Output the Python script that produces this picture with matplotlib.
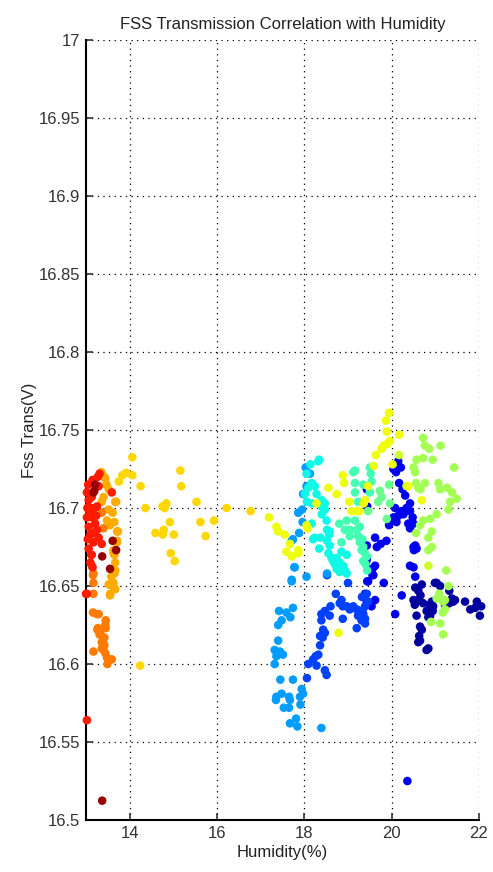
import matplotlib
matplotlib.use("Agg")
import matplotlib.pyplot as plt
import numpy as np

plt.rcParams['font.family'] = ['Liberation Sans Narrow', 'Liberation Sans', 'DejaVu Sans']

# colour value of each group (jet colormap, 0..1)
dark_blue_c = 0.03
dark_blue_x = [20.69, 20.61, 20.66, 20.50, 20.61, 20.53, 20.72, 20.57, 20.80, 20.84, 20.88, 20.92, 21.03,
               21.11, 21.32, 21.38, 21.45, 21.41, 21.32, 21.22, 20.95, 20.94, 20.88, 21.68, 21.80, 21.91,
               21.95, 22.05, 20.65, 20.69, 20.63, 20.65, 20.61, 20.80, 20.54, 20.99, 20.84, 22.02]
dark_blue_y = [16.651, 16.647, 16.644, 16.641, 16.641, 16.638, 16.639, 16.631, 16.634, 16.630, 16.638,
               16.640, 16.652, 16.650, 16.647, 16.642, 16.641, 16.640, 16.639, 16.638, 16.637, 16.634,
               16.631, 16.640, 16.635, 16.636, 16.640, 16.637, 16.624, 16.622, 16.618, 16.615, 16.614,
               16.609, 16.649, 16.652, 16.610, 16.631]

blue2_c = 0.1
blue2_x = [20.15, 20.04, 20.21, 20.10, 20.17, 20.25, 20.31, 20.42, 20.34, 20.42, 20.23, 20.08, 20.04,
           20.15, 20.27, 20.00, 19.94, 20.11, 20.48, 20.50, 20.42, 20.38, 19.43, 19.44, 19.62, 19.43,
           19.75, 19.66, 20.50, 20.54, 20.51, 19.88, 19.43, 19.46, 19.62, 19.58, 19.82, 19.46, 20.42,
           20.50, 20.54, 20.57, 20.23, 20.08, 19.41, 19.56, 19.56, 19.44, 19.39, 19.43, 19.62, 19.54,
           19.33, 20.36]
blue2_y = [16.730, 16.725, 16.726, 16.723, 16.716, 16.712, 16.708, 16.703, 16.700, 16.698, 16.698,
           16.700, 16.694, 16.695, 16.696, 16.692, 16.689, 16.691, 16.694, 16.690, 16.687, 16.690,
           16.712, 16.701, 16.681, 16.676, 16.677, 16.675, 16.675, 16.676, 16.673, 16.679, 16.667,
           16.661, 16.663, 16.657, 16.652, 16.653, 16.663, 16.662, 16.656, 16.674, 16.644, 16.632,
           16.665, 16.661, 16.657, 16.653, 16.645, 16.640, 16.641, 16.637, 16.634, 16.525]

blue_c = 0.19
blue_x = [18.06, 18.26, 18.32, 18.20, 18.28, 18.09, 18.47, 18.51, 18.36, 18.42, 18.36, 18.47, 18.39,
          18.39, 18.47, 18.58, 18.60, 18.72, 18.81, 18.85, 18.88, 18.52, 19.00, 18.97, 19.04, 18.88,
          19.12, 19.20, 19.27, 19.23, 19.35, 19.31, 19.20, 19.39, 19.32, 19.43, 19.46, 19.39, 19.39,
          18.43]
blue_y = [16.591, 16.605, 16.606, 16.603, 16.599, 16.600, 16.596, 16.593, 16.612, 16.617, 16.618,
          16.620, 16.628, 16.632, 16.634, 16.631, 16.637, 16.645, 16.639, 16.641, 16.637, 16.657,
          16.652, 16.637, 16.635, 16.629, 16.637, 16.635, 16.634, 16.631, 16.632, 16.628, 16.623,
          16.637, 16.643, 16.645, 16.640, 16.629, 16.626, 16.622]

light_blue_c = 0.28
light_blue_x = [17.74, 17.77, 17.86, 17.96, 17.97, 18.05, 18.03, 18.13, 17.71, 18.05, 17.78, 17.71,
                17.74, 17.59, 17.42, 17.68, 17.48, 17.40, 17.40, 17.32, 17.44, 17.51, 17.36, 17.32,
                17.45, 17.74, 17.36, 17.48, 17.65, 17.94, 17.97, 17.90, 17.35, 17.53, 17.65, 17.67,
                17.91, 17.81, 17.67, 17.84, 18.39, 17.71, 17.88, 18.52, 17.95]
light_blue_y = [16.680, 16.662, 16.697, 16.691, 16.709, 16.714, 16.726, 16.722, 16.654, 16.656,
                16.662, 16.653, 16.636, 16.633, 16.634, 16.630, 16.628, 16.625, 16.615, 16.609,
                16.608, 16.606, 16.605, 16.600, 16.590, 16.590, 16.579, 16.581, 16.579, 16.584,
                16.581, 16.579, 16.577, 16.572, 16.572, 16.577, 16.574, 16.565, 16.562, 16.560,
                16.559, 16.679, 16.684, 16.658, 16.699]

cyan_c = 0.37
cyan_x = [18.34, 18.32, 18.14, 18.05, 18.17, 18.09, 18.24, 18.28, 18.01, 18.06, 18.17, 18.40, 18.40,
          18.47, 18.40, 18.17, 18.51, 18.52, 18.58, 18.20, 18.37, 18.52, 18.58, 18.34, 18.55, 18.62,
          18.66, 18.74, 18.81, 18.89, 18.97, 18.75, 18.74, 18.81, 18.93, 18.97, 18.57, 18.24, 18.47,
          18.85, 18.70]
cyan_y = [16.731, 16.730, 16.728, 16.722, 16.716, 16.713, 16.714, 16.709, 16.709, 16.704, 16.703,
          16.705, 16.701, 16.699, 16.696, 16.690, 16.692, 16.686, 16.685, 16.680, 16.681, 16.679,
          16.676, 16.674, 16.671, 16.668, 16.666, 16.668, 16.665, 16.663, 16.670, 16.662, 16.661,
          16.659, 16.660, 16.658, 16.683, 16.681, 16.703, 16.672, 16.664]

teal_c = 0.43
teal_x = [19.16, 19.12, 19.50, 19.52, 19.54, 19.35, 19.16, 19.16, 19.23, 19.50, 18.97, 18.93, 19.16,
          19.20, 19.23, 19.27, 19.35, 19.31, 19.39, 19.43, 19.35, 19.44, 19.04, 19.04, 19.27, 19.33,
          19.40, 18.80, 18.85]
teal_y = [16.724, 16.723, 16.726, 16.722, 16.717, 16.715, 16.716, 16.710, 16.704, 16.710, 16.692,
          16.686, 16.692, 16.686, 16.682, 16.678, 16.675, 16.673, 16.671, 16.669, 16.666, 16.660,
          16.686, 16.682, 16.688, 16.680, 16.664, 16.690, 16.678]

green_c = 0.48
green_x = [19.94, 19.96, 19.73, 19.77, 19.69, 19.89, 19.46]
green_y = [16.715, 16.703, 16.711, 16.707, 16.704, 16.693, 16.698]

light_green_c = 0.55
light_green_x = [20.72, 20.76, 20.86, 21.12, 20.72, 20.94, 20.57, 20.50, 20.54, 21.43, 20.56, 20.61,
                 20.76, 20.66, 21.07, 21.11, 21.27, 21.38, 21.49, 21.34, 21.30, 21.03, 20.88, 20.72,
                 20.65, 20.56, 20.84, 20.92, 20.84, 20.92, 21.25, 21.30, 21.09, 21.22, 21.18, 21.22,
                 21.17, 20.90, 21.11, 21.18, 21.03]
light_green_y = [16.745, 16.740, 16.738, 16.740, 16.732, 16.731, 16.731, 16.726, 16.723, 16.726,
                 16.716, 16.713, 16.716, 16.712, 16.716, 16.712, 16.713, 16.710, 16.706, 16.704,
                 16.699, 16.696, 16.693, 16.692, 16.689, 16.684, 16.681, 16.675, 16.673, 16.685,
                 16.660, 16.650, 16.645, 16.641, 16.640, 16.635, 16.633, 16.627, 16.626, 16.619,
                 16.642]

yellow_green_c = 0.6
yellow_green_x = [20.17, 20.34, 20.84]
yellow_green_y = [16.734, 16.714, 16.663]

yellow_c = 0.64
yellow_x = [17.19, 17.36, 17.40, 17.55, 17.67, 17.86, 17.86, 17.59, 17.71, 18.78, 18.88, 18.91, 18.55,
            18.74, 19.03, 18.28, 19.08, 19.20, 19.26, 18.05, 18.08, 19.46, 19.59, 19.64, 19.77, 19.82,
            19.89, 19.96, 19.89, 20.17, 19.94, 19.87, 20.02, 19.39, 19.36, 20.38, 20.69]
yellow_y = [16.694, 16.688, 16.685, 16.683, 16.677, 16.673, 16.671, 16.672, 16.669, 16.620, 16.721,
            16.716, 16.713, 16.709, 16.704, 16.703, 16.698, 16.698, 16.698, 16.689, 16.687, 16.714,
            16.727, 16.734, 16.738, 16.740, 16.741, 16.743, 16.749, 16.747, 16.761, 16.756, 16.728,
            16.705, 16.703, 16.714, 16.705]

amber_c = 0.68
amber_x = [14.06, 13.92, 13.83, 13.75, 14.06, 14.25, 14.36, 15.16, 15.18, 14.75, 14.84, 14.80, 15.53,
           14.92, 14.59, 14.78, 14.76, 15.01, 15.62, 15.93, 15.74, 16.22, 14.94, 15.03, 16.77, 14.24]
amber_y = [16.7325, 16.7226, 16.721, 16.717, 16.721, 16.714, 16.700, 16.724, 16.714, 16.701, 16.703,
           16.700, 16.704, 16.691, 16.684, 16.686, 16.683, 16.683, 16.691, 16.692, 16.682, 16.700,
           16.671, 16.666, 16.698, 16.599]

orange_c = 0.73
orange_x = [13.35, 13.42, 13.44, 13.47, 13.52, 13.40, 13.36, 13.67, 13.52, 13.48, 13.55, 13.71, 13.71,
            13.63, 13.65, 13.67, 13.67, 13.69, 13.61, 13.65, 13.73, 13.71, 13.63, 13.58, 13.65, 13.61,
            13.55, 13.52, 13.63, 13.67, 13.55]
orange_y = [16.723, 16.720, 16.719, 16.715, 16.712, 16.707, 16.704, 16.704, 16.699, 16.692, 16.689,
            16.685, 16.678, 16.673, 16.670, 16.665, 16.660, 16.704, 16.697, 16.691, 16.685, 16.679,
            16.671, 16.656, 16.658, 16.650, 16.645, 16.651, 16.652, 16.648, 16.644]

orange_red_c = 0.78
orange_red_x = [13.36, 13.40, 13.13, 13.16, 13.17, 13.17, 13.16, 13.25, 13.17, 13.27, 13.45, 13.45,
                13.33, 13.39, 13.42, 13.29, 13.26, 13.31, 13.36, 13.42, 13.17, 13.36, 13.44, 13.48,
                13.59, 13.49, 13.40, 13.44]
orange_red_y = [16.697, 16.687, 16.663, 16.657, 16.652, 16.645, 16.633, 16.632, 16.658, 16.623,
                16.628, 16.623, 16.619, 16.614, 16.612, 16.632, 16.622, 16.619, 16.614, 16.617,
                16.608, 16.610, 16.607, 16.604, 16.603, 16.600, 16.609, 16.625]

red_c = 0.88
red_x = [13.31, 13.27, 13.29, 13.02, 13.06, 13.13, 13.59, 13.25, 13.10, 13.02, 13.13, 13.21, 13.06,
         13.25, 13.10, 13.29, 13.17, 13.36, 13.06, 13.13, 13.12, 13.10, 13.02, 13.00, 13.02, 13.05,
         13.15, 13.20, 13.08, 13.18, 13.23, 13.04, 13.15, 13.03]
red_y = [16.722, 16.720, 16.714, 16.710, 16.705, 16.707, 16.710, 16.701, 16.700, 16.694, 16.694,
         16.690, 16.688, 16.686, 16.683, 16.681, 16.678, 16.677, 16.674, 16.670, 16.670, 16.665,
         16.645, 16.645, 16.564, 16.715, 16.718, 16.700, 16.697, 16.684, 16.695, 16.680, 16.662,
         16.700]

dark_red_c = 0.98
dark_red_x = [13.21, 13.17, 13.19, 13.61, 13.37, 13.69, 13.55, 13.37]
dark_red_y = [16.715, 16.710, 16.711, 16.679, 16.669, 16.673, 16.661, 16.5124]

groups = [
    (dark_blue_x, dark_blue_y, dark_blue_c),
    (blue2_x, blue2_y, blue2_c),
    (blue_x, blue_y, blue_c),
    (light_blue_x, light_blue_y, light_blue_c),
    (cyan_x, cyan_y, cyan_c),
    (teal_x, teal_y, teal_c),
    (green_x, green_y, green_c),
    (light_green_x, light_green_y, light_green_c),
    (yellow_green_x, yellow_green_y, yellow_green_c),
    (yellow_x, yellow_y, yellow_c),
    (amber_x, amber_y, amber_c),
    (orange_x, orange_y, orange_c),
    (orange_red_x, orange_red_y, orange_red_c),
    (red_x, red_y, red_c),
    (dark_red_x, dark_red_y, dark_red_c),
]

fig = plt.figure(figsize=(4.93, 8.72), dpi=100)
ax = fig.add_axes([0.1745, 0.0596, 0.7971, 0.8945])

for gx, gy, gc in groups:
    ax.scatter(gx, gy, c=[gc] * len(gx), cmap='jet', vmin=0, vmax=1,
               s=38, linewidths=0, clip_on=False, zorder=3)

ax.set_xlim(13, 22)
ax.set_ylim(16.5, 17)
ax.set_xticks([14, 16, 18, 20, 22])
yt = np.round(np.arange(16.5, 17.001, 0.05), 2)
ax.set_yticks(yt)
ax.set_yticklabels(['%g' % v for v in yt])

ax.spines['top'].set_visible(False)
ax.spines['right'].set_visible(False)
ax.spines['left'].set_linewidth(1.5)
ax.spines['bottom'].set_linewidth(1.5)
ax.tick_params(direction='in', length=5, width=1.2, labelsize=12, colors='#333333', pad=4)
ax.grid(True, color='k', linestyle=(0, (1, 3.5)), linewidth=0.9)
ax.set_axisbelow(True)

ax.set_title('FSS Transmission Correlation with Humidity', fontsize=12, pad=8, color='#222222')
ax.set_xlabel('Humidity(%)', fontsize=12, labelpad=3, color='#222222')
ax.set_ylabel('Fss Trans(V)', fontsize=12, color='#222222')
ax.yaxis.set_label_coords(-0.125, 0.5)

fig.savefig('out.png', dpi=100)
